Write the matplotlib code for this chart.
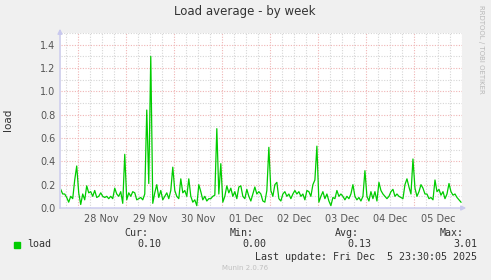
import numpy as np
import matplotlib
matplotlib.use("Agg")
import matplotlib.pyplot as plt

# --- data: hourly load average, first point Nov 27 15:30 ---
load = [
    0.16, 0.12, 0.12, 0.09, 0.05, 0.10, 0.08, 0.24, 0.36, 0.13,
    0.03, 0.12, 0.07, 0.19, 0.13, 0.14, 0.10, 0.15, 0.09, 0.10,
    0.13, 0.10, 0.09, 0.10, 0.08, 0.10, 0.08, 0.17, 0.12, 0.10,
    0.14, 0.04, 0.46, 0.07, 0.13, 0.10, 0.14, 0.13, 0.07, 0.08,
    0.09, 0.07, 0.12, 0.84, 0.21, 1.30, 0.04, 0.13, 0.20, 0.09,
    0.15, 0.07, 0.10, 0.13, 0.08, 0.15, 0.35, 0.15, 0.10, 0.08,
    0.25, 0.13, 0.15, 0.10, 0.25, 0.10, 0.05, 0.07, 0.02, 0.20,
    0.14, 0.07, 0.10, 0.06, 0.08, 0.08, 0.10, 0.11, 0.68, 0.12,
    0.38, 0.05, 0.10, 0.19, 0.13, 0.17, 0.10, 0.14, 0.08, 0.18,
    0.19, 0.10, 0.08, 0.16, 0.10, 0.06, 0.12, 0.18, 0.12, 0.14,
    0.12, 0.06, 0.05, 0.15, 0.52, 0.15, 0.10, 0.20, 0.22, 0.08,
    0.06, 0.12, 0.14, 0.10, 0.12, 0.08, 0.12, 0.15, 0.12, 0.14,
    0.10, 0.12, 0.07, 0.15, 0.14, 0.10, 0.20, 0.24, 0.53, 0.05,
    0.10, 0.14, 0.08, 0.12, 0.06, 0.02, 0.09, 0.08, 0.15, 0.10,
    0.12, 0.10, 0.07, 0.10, 0.08, 0.12, 0.20, 0.10, 0.07, 0.09,
    0.06, 0.10, 0.32, 0.10, 0.06, 0.14, 0.08, 0.14, 0.06, 0.22,
    0.15, 0.12, 0.10, 0.08, 0.10, 0.14, 0.16, 0.10, 0.12, 0.10,
    0.09, 0.08, 0.20, 0.25, 0.18, 0.12, 0.42, 0.17, 0.10, 0.14,
    0.20, 0.17, 0.12, 0.12, 0.08, 0.09, 0.07, 0.24, 0.14, 0.16,
    0.11, 0.14, 0.08, 0.12, 0.21, 0.14, 0.11, 0.12, 0.09, 0.07,
    0.05,
]
start_hour = -8.5  # hours relative to 28 Nov 00:00
day_labels = ["28 Nov", "29 Nov", "30 Nov", "01 Dec", "02 Dec", "03 Dec", "04 Dec", "05 Dec"]
y_ticks = [0.0, 0.2, 0.4, 0.6, 0.8, 1.0, 1.2, 1.4]
legend_stats = {"Cur:": "0.10", "Min:": "0.00", "Avg:": "0.13", "Max:": "3.01"}

hours = start_hour + np.arange(len(load))

W, H = 491, 280
bg = "#F0F0F0"
fig = plt.figure(figsize=(W / 100, H / 100), dpi=100, facecolor=bg)
ax = fig.add_axes([61 / W, 72 / H, 401 / W, 175 / H])
ax.set_facecolor("white")
ax.set_xlim(-8.35, 192)
ax.set_ylim(0, 1.5)

# grid: minor gray, major red-ish, all dotted
minor_c = "#D6D6D6"
major_c = "#F0B4B4"
dots = (0, (1, 1.4))
for h in np.arange(-6, 193, 6):
    if h % 24 != 0:
        ax.axvline(h, color=minor_c, lw=0.8, ls=dots, zorder=1)
for h in np.arange(0, 193, 24):
    ax.axvline(h, color=major_c, lw=0.8, ls=dots, zorder=1)
for v in np.arange(0.1, 1.51, 0.2):
    ax.axhline(v, color=minor_c, lw=0.8, ls=dots, zorder=1)
for v in y_ticks[1:]:
    ax.axhline(v, color=major_c, lw=0.8, ls=dots, zorder=1)

ax.plot(hours, load, color="#00CC00", lw=0.9, zorder=3, clip_on=True)

for s in ax.spines.values():
    s.set_visible(False)
ax.set_xticks(np.arange(12, 192, 24))
ax.set_xticklabels(day_labels)
ax.set_yticks(y_ticks)
ax.set_yticklabels([f"{v:.1f}" for v in y_ticks])
ax.tick_params(length=0, labelsize=7, colors="#555555", pad=4)

# axis lines with arrow heads
axis_c = "#C8C8EE"
ax.annotate("", xy=(60, H - 26), xytext=(60, H - 211), xycoords="figure pixels",
            arrowprops=dict(arrowstyle="-|>", color=axis_c, lw=1, mutation_scale=7))
ax.annotate("", xy=(469, H - 208), xytext=(57, H - 208), xycoords="figure pixels",
            arrowprops=dict(arrowstyle="-|>", color=axis_c, lw=1, mutation_scale=7))

def ftext(x, y, s, **kw):
    fig.text(x / W, 1 - y / H, s, **kw)

ftext(245, 12, "Load average - by week", ha="center", va="center",
      fontsize=8.5, color="#333333")
ftext(8, 120, "load", ha="center", va="center", rotation=90, fontsize=7.5, color="#333333")
ftext(481, 5, "RRDTOOL / TOBI OETIKER", ha="center", va="top", rotation=270,
      fontsize=5, color="#B8B8B8")

mono = dict(family="DejaVu Sans Mono", fontsize=7.2, color="#333333", va="center")
fig.patches.append(plt.Rectangle((14 / W, 1 - 248 / H), 6 / W, 6 / H,
                                 transform=fig.transFigure, color="#00CC00"))
ftext(27, 244, "load", ha="left", **mono)
for i, (name, val) in enumerate(legend_stats.items()):
    ftext(148 + 105.3 * i, 232.5, name, ha="right", **mono)
    ftext(161 + 105.3 * i, 244, val, ha="right", **mono)
ftext(477, 257, "Last update: Fri Dec  5 23:30:05 2025", ha="right", **mono)
ftext(245, 268, "Munin 2.0.76", ha="center", va="center", fontsize=5, color="#C0C0C0")

fig.savefig("out.png", dpi=100, facecolor=bg)
